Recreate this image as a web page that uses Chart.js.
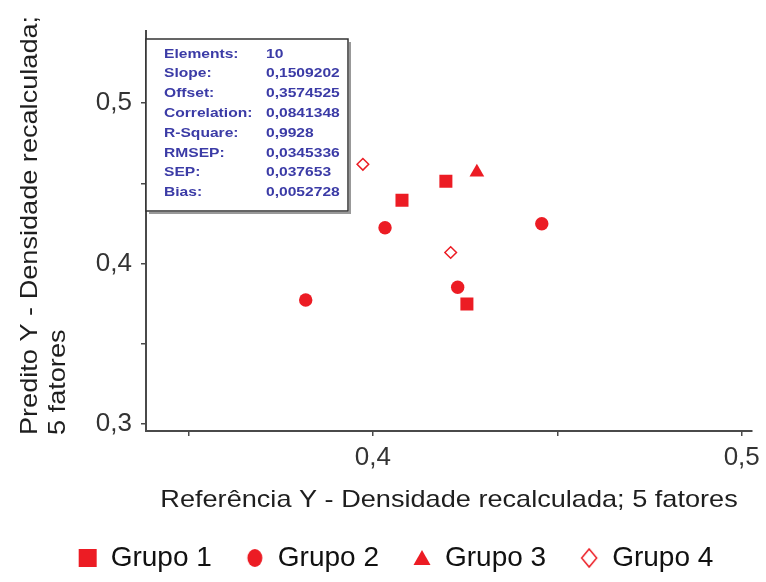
<!DOCTYPE html>
<html><head><meta charset="utf-8">
<script src="https://cdn.jsdelivr.net/npm/chart.js@4/dist/chart.umd.min.js"></script>
<style>html,body{margin:0;padding:0;background:#fff}canvas{display:block}</style>
</head><body>
<canvas id="c" width="766" height="582"></canvas>
<script>
// ---- data ----
const seriesNames = ['Grupo 1', 'Grupo 2', 'Grupo 3', 'Grupo 4'];
const grupo1X = [0.4079, 0.4198, 0.4255];
const grupo1Y = [0.4394, 0.4513, 0.3748];
const grupo2X = [0.3818, 0.4033, 0.4230, 0.4458];
const grupo2Y = [0.3773, 0.4223, 0.3852, 0.4248];
const grupo3X = [0.4282];
const grupo3Y = [0.4570];
const grupo4X = [0.3973, 0.4211];
const grupo4Y = [0.4619, 0.4069];

const xTickValues = [0.35, 0.4, 0.45, 0.5];
const xTickLabels = ['', '0,4', '', '0,5'];
const yTickValues = [0.3, 0.35, 0.4, 0.45, 0.5];
const yTickLabels = ['0,3', '', '0,4', '', '0,5'];

const xAxisTitle = 'Referência Y - Densidade recalculada; 5 fatores';
const yAxisTitleLines = ['Predito Y - Densidade recalculada;', '5 fatores'];

const statLabels = ['Elements:', 'Slope:', 'Offset:', 'Correlation:', 'R-Square:', 'RMSEP:', 'SEP:', 'Bias:'];
const statValues = ['10', '0,1509202', '0,3574525', '0,0841348', '0,9928', '0,0345336', '0,037653', '0,0052728'];

// ---- styling ----
const RED = '#ec1c24';
const FONT = "'Liberation Sans', Arial, sans-serif";
const AXIS = '#4a4a4a';

function pts(xs, ys) { return xs.map((x, i) => ({ x: x, y: ys[i] })); }

function markerCanvas(kind) {
  const c = document.createElement('canvas');
  c.width = 20; c.height = 22;
  const g = c.getContext('2d');
  g.fillStyle = RED; g.strokeStyle = RED;
  const cx = 10, cy = 11;
  if (kind === 'square') { g.fillRect(1, 2, 18, 18); }
  else if (kind === 'circle') { g.beginPath(); g.ellipse(cx, cy, 7.5, 9, 0, 0, Math.PI * 2); g.fill(); }
  else if (kind === 'triangle') { g.beginPath(); g.moveTo(cx, 3); g.lineTo(cx + 8.5, 18); g.lineTo(cx - 8.5, 18); g.closePath(); g.fill(); }
  else { g.lineWidth = 1.5; g.beginPath(); g.moveTo(cx, 2); g.lineTo(cx + 7.5, cy); g.lineTo(cx, 20); g.lineTo(cx - 7.5, cy); g.closePath(); g.fillStyle = '#fff'; g.fill(); g.stroke(); }
  return c;
}
const legendMarkers = [markerCanvas('square'), markerCanvas('circle'), markerCanvas('triangle'), markerCanvas('diamond')];

const PAD_LEFT = 40, PAD_BOTTOM = 0;
const AREA_LEFT = 146, AREA_BOTTOM = 431, AREA_TOP = 31, AREA_RIGHT = 752;

const overlay = {
  id: 'overlay',
  afterDraw(chart) {
    const ctx = chart.ctx;
    // stats box
    const bx = 146, by = 39, bw = 202, bh = 172;
    ctx.save();
    ctx.fillStyle = '#fff';
    ctx.fillRect(bx, by, bw, bh);
    ctx.strokeStyle = '#999';
    ctx.lineWidth = 2;
    ctx.beginPath();
    ctx.moveTo(bx + bw + 2, by + 3); ctx.lineTo(bx + bw + 2, by + bh + 2); ctx.lineTo(bx + 3, by + bh + 2);
    ctx.stroke();
    ctx.strokeStyle = '#333';
    ctx.lineWidth = 1.5;
    ctx.strokeRect(bx, by, bw, bh);
    ctx.fillStyle = '#3b3ba6';
    ctx.font = 'bold 13px ' + FONT;
    ctx.textBaseline = 'alphabetic';
    ctx.textAlign = 'left';
    for (let i = 0; i < statLabels.length; i++) {
      const yy = 57.5 + 19.8 * i;
      ctx.save(); ctx.translate(164, yy); ctx.scale(1.2, 1); ctx.fillText(statLabels[i], 0, 0); ctx.restore();
      ctx.save(); ctx.translate(266, yy); ctx.scale(1.2, 1); ctx.fillText(statValues[i], 0, 0); ctx.restore();
    }
    ctx.restore();

    // axis titles
    ctx.save();
    ctx.fillStyle = '#1e1e1e';
    ctx.font = '24px ' + FONT;
    ctx.textAlign = 'center';
    ctx.textBaseline = 'alphabetic';
    ctx.translate(449, 507);
    ctx.scale(1.13, 1);
    ctx.fillText(xAxisTitle, 0, 0);
    ctx.restore();

    const lineX = [37, 65];
    yAxisTitleLines.forEach((t, i) => {
      ctx.save();
      ctx.fillStyle = '#1e1e1e';
      ctx.font = '24px ' + FONT;
      ctx.textAlign = 'left';
      ctx.textBaseline = 'alphabetic';
      ctx.translate(lineX[i], 435);
      ctx.rotate(-Math.PI / 2);
      ctx.scale(1.13, 1);
      ctx.fillText(t, 0, 0);
      ctx.restore();
    });
  }
};

new Chart(document.getElementById('c'), {
  type: 'scatter',
  data: {
    datasets: [
      { label: seriesNames[0], data: pts(grupo1X, grupo1Y), pointStyle: 'rect', pointRadius: 9.2, backgroundColor: RED, borderColor: RED, borderWidth: 0 },
      { label: seriesNames[1], data: pts(grupo2X, grupo2Y), pointStyle: 'circle', pointRadius: 6.7, backgroundColor: RED, borderColor: RED, borderWidth: 0 },
      { label: seriesNames[2], data: pts(grupo3X, grupo3Y), pointStyle: 'triangle', pointRadius: 8.5, backgroundColor: RED, borderColor: RED, borderWidth: 0 },
      { label: seriesNames[3], data: pts(grupo4X, grupo4Y), pointStyle: 'rectRot', pointRadius: 5.8, backgroundColor: '#fff', borderColor: RED, borderWidth: 1.5 }
    ]
  },
  options: {
    responsive: false,
    animation: false,
    devicePixelRatio: 1,
    events: [],
    layout: { padding: { top: AREA_TOP, right: 766 - AREA_RIGHT, bottom: PAD_BOTTOM, left: PAD_LEFT } },
    plugins: {
      tooltip: { enabled: false },
      legend: {
        position: 'bottom',
        labels: {
          usePointStyle: true,
          boxWidth: 18,
          boxHeight: 18,
          padding: 34,
          color: '#111',
          font: { family: FONT, size: 28 },
          generateLabels(chart) {
            const items = Chart.defaults.plugins.legend.labels.generateLabels(chart);
            items.forEach((it, i) => { it.pointStyle = legendMarkers[i]; it.fontColor = '#111'; });
            return items;
          }
        }
      }
    },
    scales: {
      x: {
        type: 'linear',
        min: 0.3385,
        max: 0.5026,
        afterBuildTicks(scale) { scale.ticks = xTickValues.map(v => ({ value: v })); },
        afterFit(scale) { scale.height = 582 - AREA_BOTTOM - scale.chart.legend.height - PAD_BOTTOM; },
        ticks: {
          autoSkip: false,
          maxRotation: 0,
          padding: 6,
          color: '#333',
          font: { family: FONT, size: 26 },
          callback(v, i) { return xTickLabels[i]; }
        },
        grid: { display: true, drawOnChartArea: false, drawTicks: true, tickLength: 5, color: AXIS, lineWidth: 1.5 },
        border: { display: true, color: AXIS, width: 2 }
      },
      y: {
        type: 'linear',
        min: 0.2956,
        max: 0.545,
        afterBuildTicks(scale) { scale.ticks = yTickValues.map(v => ({ value: v })); },
        afterFit(scale) { scale.width = AREA_LEFT - PAD_LEFT; },
        ticks: {
          autoSkip: false,
          padding: 9,
          color: '#333',
          font: { family: FONT, size: 26 },
          callback(v, i) { return yTickLabels[i]; }
        },
        grid: { display: true, drawOnChartArea: false, drawTicks: true, tickLength: 5, color: AXIS, lineWidth: 1.5 },
        border: { display: true, color: AXIS, width: 2 }
      }
    }
  },
  plugins: [overlay]
});
</script>
</body></html>
